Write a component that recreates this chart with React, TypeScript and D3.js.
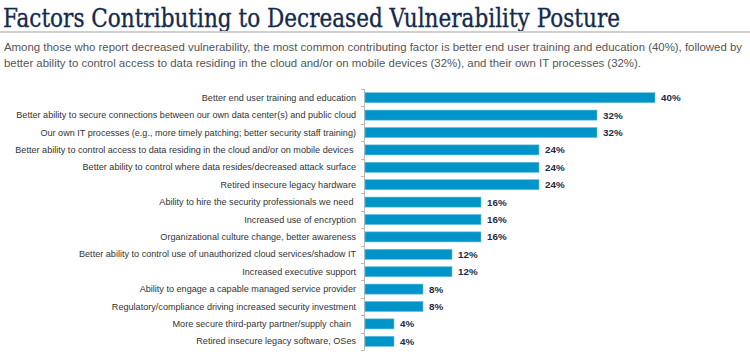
import React, { useRef, useEffect } from 'react';
import * as d3 from 'd3';

const categories: string[] = [
  'Better end user training and education',
  'Better ability to secure connections between our own data center(s) and public cloud',
  'Our own IT processes (e.g., more timely patching; better security staff training)',
  'Better ability to control access to data residing in the cloud and/or on mobile devices ',
  'Better ability to control where data resides/decreased attack surface',
  'Retired insecure legacy hardware',
  'Ability to hire the security professionals we need ',
  'Increased use of encryption',
  'Organizational culture change, better awareness',
  'Better ability to control use of unauthorized cloud services/shadow IT',
  'Increased executive support',
  'Ability to engage a capable managed service provider',
  'Regulatory/compliance driving increased security investment',
  'More secure third-party partner/supply chain  ',
  'Retired insecure legacy software, OSes',
];

const values: number[] = [40, 32, 32, 24, 24, 24, 16, 16, 16, 12, 12, 8, 8, 4, 4];

const titleText = 'Factors Contributing to Decreased Vulnerability Posture';
const subtitleLines: string[] = [
  'Among those who report decreased vulnerability, the most common contributing factor is better end user training and education (40%), followed by',
  'better ability to control access to data residing in the cloud and/or on mobile devices (32%), and their own IT processes (32%).',
];

const App = () => {
  const svgRef = useRef<SVGSVGElement>(null);

  useEffect(() => {
    const width = 750;
    const height = 354;
    const marginLeft = 365;
    const marginTop = 89;
    const marginBottom = 4;

    const svg = d3.select(svgRef.current);
    svg.selectAll('*').remove();
    svg.attr('width', width).attr('height', height).attr('viewBox', [0, 0, width, height]);

    // Title + rule
    svg.append('text')
      .attr('x', 3)
      .attr('y', 27)
      .attr('fill', '#142a4c')
      .attr('stroke', '#142a4c')
      .attr('stroke-width', 0.35)
      .attr('font-family', '"DejaVu Serif", serif')
      .attr('font-size', 26)
      .attr('textLength', 617)
      .attr('lengthAdjust', 'spacingAndGlyphs')
      .text(titleText);

    svg.append('rect')
      .attr('x', 0)
      .attr('y', 31)
      .attr('width', width)
      .attr('height', 2)
      .attr('fill', '#cfcfd2');

    // Subtitle
    const subLens = [738, 637];
    svg.append('g')
      .selectAll('text')
      .data(subtitleLines)
      .join('text')
      .attr('x', 4)
      .attr('y', (d, i) => 51 + i * 16)
      .attr('fill', '#555')
      .attr('font-family', '"Liberation Sans", Arial, sans-serif')
      .attr('font-size', 11.3)
      .attr('textLength', (d, i) => subLens[i])
      .attr('lengthAdjust', 'spacingAndGlyphs')
      .text(d => d);

    // Scales
    const x = d3.scaleLinear().domain([0, 40]).range([marginLeft, 655]);
    const y = d3.scaleBand<string>()
      .domain(categories)
      .range([marginTop, height - marginBottom])
      .paddingInner(0.42)
      .paddingOuter(0.21);

    const step = y.step();

    // Axis line with ticks at band boundaries
    const axis = svg.append('g').attr('stroke', '#b9b9b9').attr('stroke-width', 1);
    axis.append('line')
      .attr('x1', marginLeft - 0.5).attr('x2', marginLeft - 0.5)
      .attr('y1', marginTop).attr('y2', height - marginBottom);
    const bounds = d3.range(categories.length + 1).map(i => marginTop + i * step);
    axis.selectAll('line.tick')
      .data(bounds)
      .join('line')
      .attr('class', 'tick')
      .attr('x1', marginLeft - 4).attr('x2', marginLeft - 0.5)
      .attr('y1', d => Math.round(d) + 0.5).attr('y2', d => Math.round(d) + 0.5);

    // Bars
    svg.append('g')
      .selectAll('rect')
      .data(values)
      .join('rect')
      .attr('x', x(0))
      .attr('y', (d, i) => y(categories[i])!)
      .attr('width', d => x(d) - x(0))
      .attr('height', y.bandwidth())
      .attr('fill', '#0094c8')
      .attr('stroke', '#6cc0e2')
      .attr('stroke-width', 0.6);

    // Category labels
    svg.append('g')
      .selectAll('text')
      .data(categories)
      .join('text')
      .attr('x', marginLeft - 9)
      .attr('y', d => y(d)! + y.bandwidth() / 2)
      .attr('dy', '0.35em')
      .attr('text-anchor', 'end')
      .attr('fill', '#333')
      .attr('font-family', '"Liberation Sans", Arial, sans-serif')
      .attr('font-size', 9.1)
      .style('white-space', 'pre')
      .text(d => d);

    // Value labels
    svg.append('g')
      .selectAll('text')
      .data(values)
      .join('text')
      .attr('x', d => x(d) + 6)
      .attr('y', (d, i) => y(categories[i])! + y.bandwidth() / 2)
      .attr('dy', '0.35em')
      .attr('fill', '#1c2b48')
      .attr('font-family', '"Liberation Sans", Arial, sans-serif')
      .attr('font-weight', 'bold')
      .attr('font-size', 9.8)
      .text(d => `${d}%`);
  }, []);

  return (
    <div style={{ position: 'absolute', left: 0, top: 0 }}>
      <svg ref={svgRef} style={{ display: 'block' }}></svg>
    </div>
  );
};

export default App;
